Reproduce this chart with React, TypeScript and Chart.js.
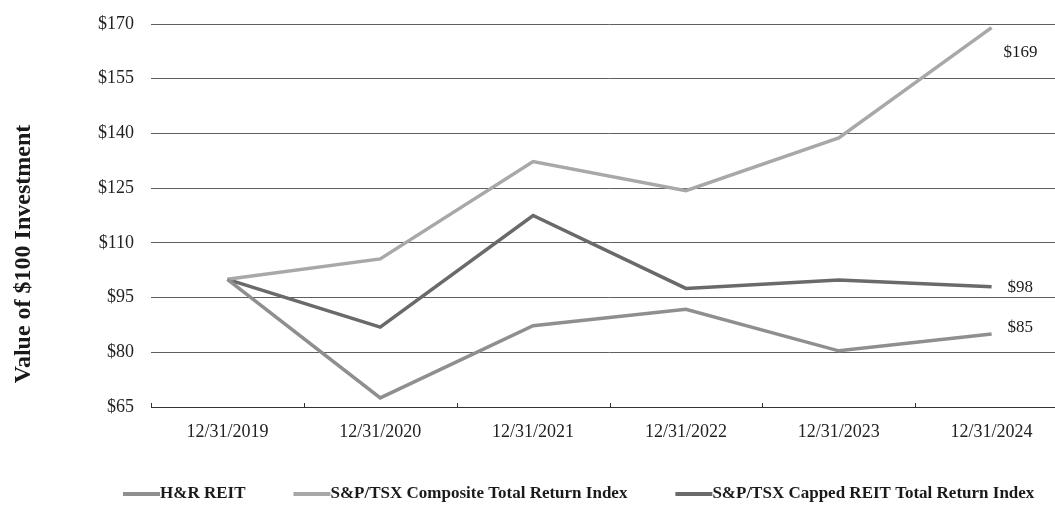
import React, { useEffect, useRef } from "react";
import { Chart, registerables } from "chart.js";

Chart.register(...registerables);

const categories = ["12/31/2019", "12/31/2020", "12/31/2021", "12/31/2022", "12/31/2023", "12/31/2024"];
const hrReit = [100, 67.5, 87.3, 91.8, 80.4, 85];
const tsxComposite = [100, 105.6, 132.3, 124.3, 138.8, 169];
const tsxCappedReit = [100, 86.9, 117.5, 97.5, 99.8, 98];
const yTicks = [65, 80, 95, 110, 125, 140, 155, 170];
const endLabels = ["$85", "$169", "$98"];
const endLabelOffsetsY = [-7, 25, 1];
const endLabelOffsetsX = [16, 12, 16];
const yTitle = "Value of $100 Investment";

const FONT = "'Liberation Serif', 'Times New Roman', serif";

const endLabelPlugin = {
  id: "endLabels",
  afterDatasetsDraw(chart: any) {
    const ctx = chart.ctx;
    ctx.save();
    ctx.font = `17px ${FONT}`;
    ctx.fillStyle = "#1a1a1a";
    ctx.textBaseline = "middle";
    ctx.textAlign = "left";
    chart.data.datasets.forEach((ds: any, i: number) => {
      const meta = chart.getDatasetMeta(i);
      const pt = meta.data[meta.data.length - 1];
      if (!pt) return;
      ctx.fillText(endLabels[i], pt.x + endLabelOffsetsX[i], pt.y + endLabelOffsetsY[i]);
    });
    ctx.restore();
  },
};

const boundaryTickPlugin = {
  id: "boundaryTicks",
  afterDraw(chart: any) {
    const x = chart.scales.x;
    const area = chart.chartArea;
    const ctx = chart.ctx;
    const n = categories.length;
    const step = (x.right - x.left) / n;
    ctx.save();
    ctx.strokeStyle = "#333";
    ctx.lineWidth = 1;
    for (let i = 0; i <= n; i++) {
      const px = Math.round(x.left + i * step) + 0.5;
      ctx.beginPath();
      ctx.moveTo(px, area.bottom - 4);
      ctx.lineTo(px, area.bottom);
      ctx.stroke();
    }
    ctx.restore();
  },
};

const yTitlePlugin = {
  id: "yTitle",
  afterDraw(chart: any) {
    const ctx = chart.ctx;
    ctx.save();
    ctx.font = `bold 24px ${FONT}`;
    ctx.fillStyle = "#1a1a1a";
    ctx.textAlign = "center";
    ctx.textBaseline = "middle";
    ctx.translate(24, 254);
    ctx.rotate(-Math.PI / 2);
    ctx.fillText(yTitle, 0, 0);
    ctx.restore();
  },
};

const customLegendPlugin = {
  id: "customLegend",
  afterDraw(chart: any) {
    const ctx = chart.ctx;
    ctx.save();
    ctx.font = `bold 17px ${FONT}`;
    ctx.textBaseline = "middle";
    ctx.textAlign = "left";
    let x = 123;
    const y = 494;
    const boxW = 37;
    const gap = 48;
    chart.data.datasets.forEach((ds: any) => {
      ctx.fillStyle = ds.borderColor;
      ctx.fillRect(x, y - 2, boxW, 4);
      x += boxW;
      ctx.fillStyle = "#1a1a1a";
      ctx.fillText(ds.label, x, y);
      x += ctx.measureText(ds.label).width + gap;
    });
    ctx.restore();
  },
};

export default function App() {
  const ref = useRef<HTMLCanvasElement>(null);
  useEffect(() => {
    if (!ref.current) return;
    const chart = new Chart(ref.current, {
      type: "line",
      data: {
        labels: categories,
        datasets: [
          { label: "H&R REIT", data: hrReit, borderColor: "#8f8f8f", backgroundColor: "#8f8f8f", borderWidth: 3.5 },
          { label: "S&P/TSX Composite Total Return Index", data: tsxComposite, borderColor: "#a8a8a8", backgroundColor: "#a8a8a8", borderWidth: 3.5 },
          { label: "S&P/TSX Capped REIT Total Return Index", data: tsxCappedReit, borderColor: "#6a6a6a", backgroundColor: "#6a6a6a", borderWidth: 3.5 },
        ],
      },
      options: {
        animation: false,
        responsive: false,
        maintainAspectRatio: false,
        elements: { point: { radius: 0 }, line: { tension: 0 } },
        layout: { padding: { left: 0, right: 2, top: 24, bottom: 0 } },
        plugins: {
          tooltip: { enabled: false },
          legend: { display: false },
        },
        scales: {
          x: {
            offset: true,
            afterFit(scale: any) {
              scale.height = 100;
            },
            grid: { display: false, drawTicks: false },
            border: { display: true, color: "#333", width: 1 },
            ticks: { font: { family: FONT, size: 18 }, color: "#222", padding: 14, maxRotation: 0 },
          },
          y: {
            min: 65,
            max: 170,
            afterFit(scale: any) {
              scale.width = 151;
              scale.paddingTop = 0;
              scale.paddingBottom = 0;
            },
            afterBuildTicks(scale: any) {
              scale.ticks = yTicks.map((v) => ({ value: v }));
            },
            grid: { color: "#5e5e5e", lineWidth: 1, drawTicks: false },
            border: { display: false },
            ticks: {
              font: { family: FONT, size: 18 },
              color: "#222",
              padding: 17,
              callback: (v: any) => "$" + v,
            },
          },
        },
      },
      plugins: [endLabelPlugin, boundaryTickPlugin, yTitlePlugin, customLegendPlugin],
    });
    return () => chart.destroy();
  }, []);
  return (
    <div style={{ position: "fixed", left: 0, top: 0, width: 1055, height: 507, overflow: "hidden", background: "#fff" }}>
      <canvas ref={ref} width={1070} height={507} style={{ width: 1070, height: 507, display: "block" }} />
    </div>
  );
}
